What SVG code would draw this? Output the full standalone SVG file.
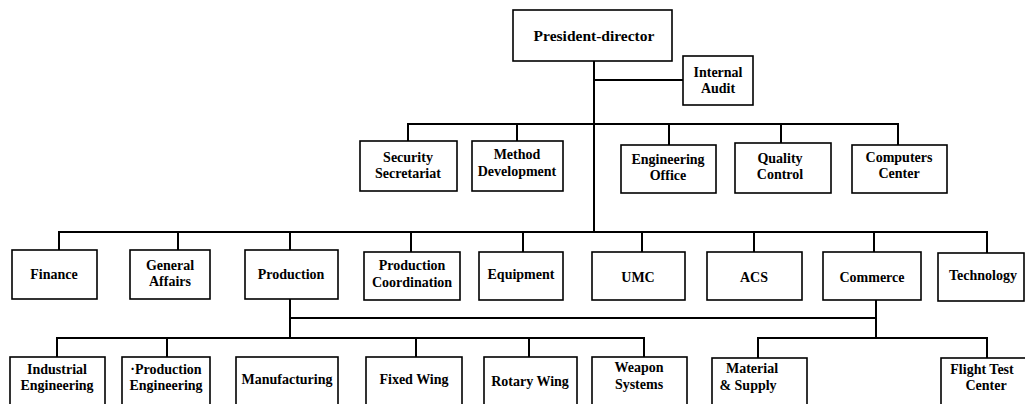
<svg xmlns="http://www.w3.org/2000/svg" width="1025" height="404" viewBox="0 0 1025 404">
<style>
rect{fill:#fff;stroke:#000;stroke-width:1.6}
text{font-family:"Liberation Serif","Times New Roman",serif;font-weight:bold;font-size:14px;text-anchor:middle;fill:#000}
#connectors path{fill:none;stroke:#000;stroke-width:2}
</style>
<rect x="0" y="0" width="1025" height="404" style="stroke:none"/>
<g id="connectors">
<path d="M594 61V232M594 80H683"/>
<path d="M408 141V124H898V145M517 124V141M669 124V145M781 124V143"/>
<path d="M59 250V232H987V253M178 232V250M290 232V250M411 232V252M523 232V252M642 232V252M754 232V252M874 232V252"/>
<path d="M290 299V338M290 318H876M876 300V338"/>
<path d="M57 357V338H644V357M167 338V357M416 338V357M529 338V357"/>
<path d="M758 358V338H987V358"/>
</g>
<g id="president"><rect x="513" y="10" width="159" height="51"/><text x="594" y="41" style="font-size:15.5px">President-director</text></g>
<g id="internal-audit"><rect x="683" y="56" width="70" height="49"/><text x="718" y="77">Internal</text><text x="718" y="93">Audit</text></g>
<g id="security"><rect x="360" y="141" width="97" height="50"/><text x="408" y="162">Security</text><text x="408" y="178">Secretariat</text></g>
<g id="method"><rect x="472" y="141" width="91" height="50"/><text x="517" y="159">Method</text><text x="517" y="176">Development</text></g>
<g id="engineering-office"><rect x="621" y="145" width="95" height="48"/><text x="668" y="164">Engineering</text><text x="668" y="180">Office</text></g>
<g id="quality"><rect x="735" y="143" width="96" height="50"/><text x="780" y="163">Quality</text><text x="780" y="179">Control</text></g>
<g id="computers"><rect x="852" y="145" width="95" height="48"/><text x="899" y="162">Computers</text><text x="899" y="178">Center</text></g>
<g id="finance"><rect x="12" y="250" width="85" height="49"/><text x="54" y="279">Finance</text></g>
<g id="general-affairs"><rect x="130" y="250" width="80" height="49"/><text x="170" y="270">General</text><text x="170" y="286">Affairs</text></g>
<g id="production"><rect x="245" y="250" width="93" height="49"/><text x="291" y="279">Production</text></g>
<g id="production-coordination"><rect x="364" y="252" width="96" height="48"/><text x="412" y="270">Production</text><text x="412" y="287">Coordination</text></g>
<g id="equipment"><rect x="479" y="252" width="84" height="48"/><text x="521" y="279">Equipment</text></g>
<g id="umc"><rect x="592" y="252" width="93" height="48"/><text x="638" y="282">UMC</text></g>
<g id="acs"><rect x="707" y="252" width="95" height="48"/><text x="754" y="282">ACS</text></g>
<g id="commerce"><rect x="823" y="252" width="98" height="48"/><text x="872" y="282">Commerce</text></g>
<g id="technology"><rect x="938" y="253" width="86" height="48"/><text x="983" y="280">Technology</text></g>
<g id="industrial-engineering"><rect x="10" y="357" width="95" height="52"/><text x="57" y="374">Industrial</text><text x="57" y="390">Engineering</text></g>
<g id="production-engineering"><rect x="122" y="357" width="88" height="52"/><text x="166" y="374">·Production</text><text x="166" y="390">Engineering</text></g>
<g id="manufacturing"><rect x="236" y="357" width="102" height="52"/><text x="287" y="384">Manufacturing</text></g>
<g id="fixed-wing"><rect x="366" y="357" width="96" height="52"/><text x="414" y="384">Fixed Wing</text></g>
<g id="rotary-wing"><rect x="484" y="357" width="93" height="52"/><text x="530" y="386">Rotary Wing</text></g>
<g id="weapon-systems"><rect x="592" y="357" width="95" height="52"/><text x="639" y="372">Weapon</text><text x="639" y="389">Systems</text></g>
<g id="material-supply"><rect x="712" y="358" width="95" height="52"/><text x="752" y="373">Material</text><text x="748" y="390">&amp; Supply</text></g>
<g id="flight-test"><rect x="941" y="358" width="90" height="52"/><text x="982" y="374">Flight Test</text><text x="986" y="390">Center</text></g>
</svg>
